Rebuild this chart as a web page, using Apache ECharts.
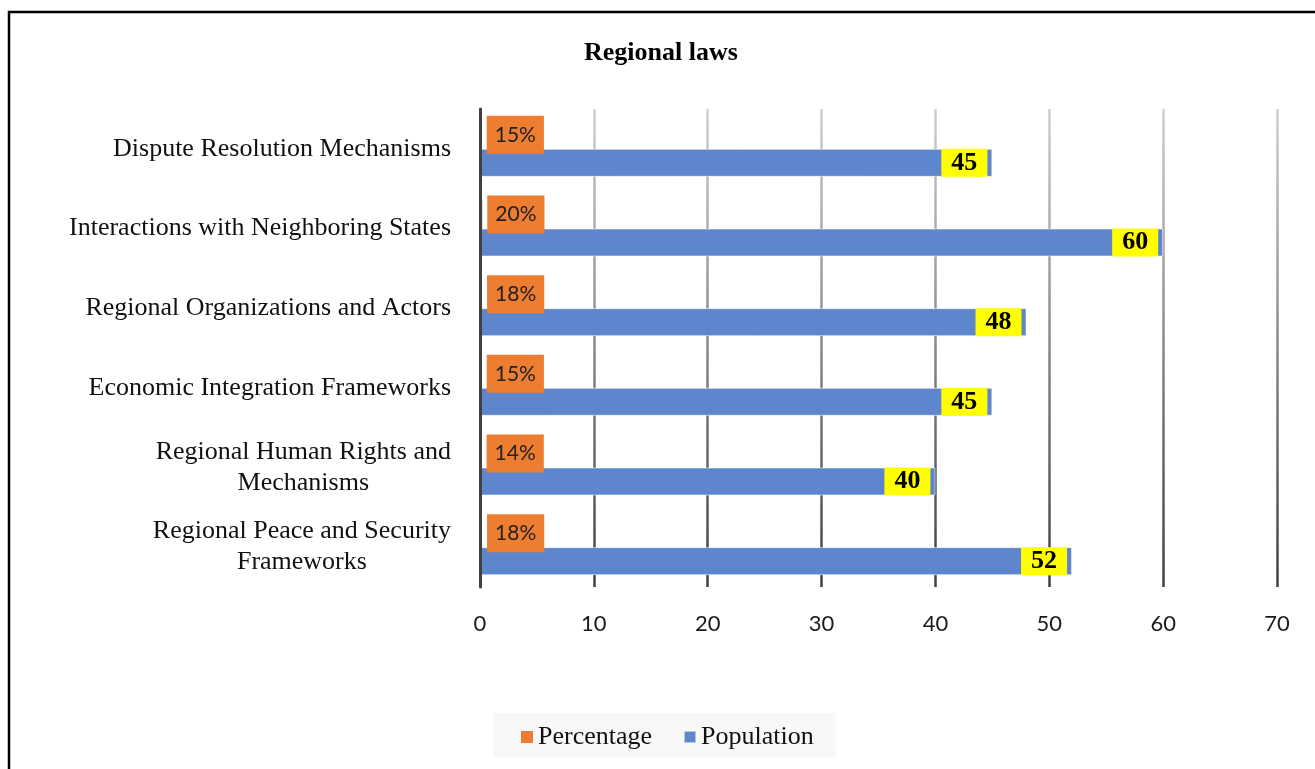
<!DOCTYPE html>
<html><head><meta charset="utf-8">
<script src="https://cdn.jsdelivr.net/npm/echarts@6/dist/echarts.min.js"></script>
<style>html,body{margin:0;padding:0;background:#fff}#c{width:1315px;height:769px}</style>
</head><body><div id="c"></div>
<script>
const categories = ['Dispute Resolution Mechanisms', 'Interactions with Neighboring States', 'Regional Organizations and Actors', 'Economic Integration Frameworks', 'Regional Human Rights and\nMechanisms', 'Regional Peace and Security\nFrameworks'];
const percentage = [0.15, 0.20, 0.18, 0.15, 0.14, 0.18];
const population = [45, 60, 48, 45, 40, 52];
const xTicks = [0, 10, 20, 30, 40, 50, 60, 70];
const seriesNames = ['Percentage', 'Population'];

const SERIF = '"Liberation Serif","Times New Roman",serif';
const SANS = 'Lato,"Noto Sans",sans-serif';
const chart = echarts.init(document.getElementById('c'), null, {renderer: 'canvas'});
const GTOP = 109, GH = 478;
chart.setOption({
  backgroundColor: '#fff',
  animation: false,
  title: {
    text: 'Regional laws', left: 584, top: 40, padding: 0,
    textStyle: {fontFamily: SERIF, fontWeight: 'bold', fontSize: 26, color: '#000'}
  },
  graphic: [{
    type: 'rect', silent: true, z: 100,
    shape: {x: 9, y: 12, width: 1400, height: 900},
    style: {fill: 'none', stroke: '#000', lineWidth: 2.5}
  }],
  legend: {
    data: seriesNames, left: 493, top: 713, padding: [11, 22, 8, 28],
    itemGap: 31, itemWidth: 12, itemHeight: 12, icon: 'rect',
    backgroundColor: '#f8f8f8',
    textStyle: {fontFamily: SERIF, fontSize: 26, color: '#111'}
  },
  grid: {left: 480, top: GTOP, width: 797, height: GH, containLabel: false},
  xAxis: {
    type: 'value', min: xTicks[0], max: xTicks[xTicks.length - 1], interval: 10,
    axisLine: {show: false}, axisTick: {show: false},
    axisLabel: {fontFamily: SANS, fontSize: 22, color: '#1a1a1a', margin: 26},
    splitLine: {show: true, lineStyle: {width: 2.5, color: {
      type: 'linear', x: 0, y: GTOP, x2: 0, y2: GTOP + GH, global: true,
      colorStops: [{offset: 0, color: '#cfcfcf'}, {offset: 1, color: '#404040'}]
    }}}
  },
  yAxis: {
    type: 'category', data: categories, inverse: true, z: 5,
    axisLine: {show: true, lineStyle: {color: '#404040', width: 3}},
    axisTick: {show: false},
    axisLabel: {
      margin: 29, align: 'right',
      formatter: v => v.split('\n').map(s => '{c|' + s + '}').join('\n'),
      rich: {c: {align: 'center', fontFamily: SERIF, fontSize: 26, lineHeight: 31, color: '#111'}}
    }
  },
  series: [{
    name: seriesNames[0], type: 'bar', data: percentage, barWidth: 28, barGap: '0%', barCategoryGap: '30%',
    itemStyle: {color: '#ED7D31'},
    label: {
      show: true, position: 'right', distance: 5,
      formatter: p => Math.round(p.value * 100) + '%',
      backgroundColor: '#ED7D31', padding: [6, 8], lineHeight: 26,
      fontFamily: SANS, fontSize: 21, color: '#222'
    }
  }, {
    name: seriesNames[1], type: 'bar', data: population, barWidth: 28,
    itemStyle: {color: '#5E86CD', borderColor: 'rgba(255,255,255,0.55)', borderWidth: 1},
    label: {
      show: true, position: 'insideRight', distance: 5,
      backgroundColor: '#FFFF00', padding: [0, 10], lineHeight: 28,
      fontFamily: SERIF, fontWeight: 'bold', fontSize: 26, color: '#000'
    }
  }]
});
</script></body></html>
